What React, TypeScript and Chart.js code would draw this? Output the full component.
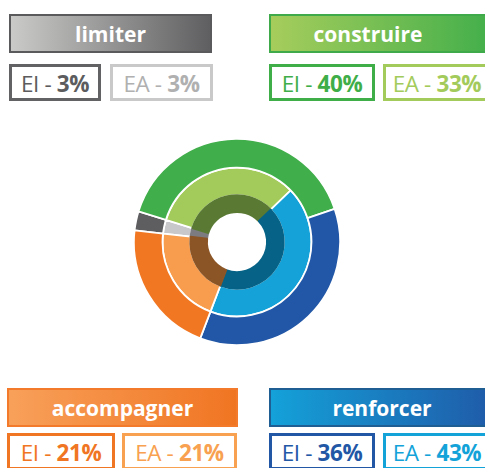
import React, { useEffect, useRef } from 'react';
import { Chart, registerables } from 'chart.js';

Chart.register(...registerables);

const categories = ['limiter', 'construire', 'renforcer', 'accompagner'];
const eiValues = [3, 40, 36, 21];
const eaValues = [3, 33, 43, 21];

const outerColors = ['#5e5e61', '#40ae4a', '#2157a6', '#f17722'];
const middleColors = ['#c8c8ca', '#a3cb5b', '#14a2d9', '#f89d4e'];
const innerColors = ['#7c7c80', '#5a7a34', '#066387', '#8c5526'];
const eiBorderColors = ['#626265', '#3fae49', '#2257a6', '#f07623'];
const eaBorderColors = ['#c9c9c9', '#a3cb5b', '#13a3d9', '#f8a150'];
const eiTextColors = ['#5c5c5e', '#3fae49', '#2257a6', '#f07623'];
const eaTextColors = ['#b0b0b0', '#a3cb5b', '#13a3d9', '#f8a150'];
const gradients = [
  ['#cacac8', '#5f5f61'],
  ['#a6cd5c', '#40ae4a'],
  ['#14a1d9', '#2056a5'],
  ['#f8a05a', '#f07522'],
];
const headerBorders = ['#5a5a5c', '#3faa49', '#1e5e93', '#f27a2a'];

// layout per category: [left, headerTop, headerWidth, textWidth, boxTop, eiWidth, eaLeft, eaWidth]
const layout: Record<string, number[]> = {
  limiter: [9, 14, 203, 203, 64, 92, 110, 103],
  construire: [269, 14, 230, 198, 64, 106, 383, 120],
  renforcer: [269, 388, 240, 226, 433, 106, 383, 120],
  accompagner: [7, 388, 231, 231, 433, 108, 122, 115],
};

const FONT = '"Open Sans", "Noto Sans", sans-serif';

function Legend({ idx }: { idx: number }) {
  const name = categories[idx];
  const [left, hTop, hW, tW, bTop, eiW, eaLeft, eaW] = layout[name];
  const boxH = 37;
  const boxStyle = (l: number, w: number, col: string): React.CSSProperties => ({
    position: 'absolute',
    left: l,
    top: bTop,
    width: w,
    height: boxH,
    boxSizing: 'border-box',
    border: `3px solid ${col}`,
    background: '#fff',
    display: 'flex',
    alignItems: 'center',
    fontFamily: FONT,
    fontSize: 22.5,
    whiteSpace: 'nowrap',
    letterSpacing: -0.4,
  });
  const inner = (w: number): React.CSSProperties => ({
    width: w - 6,
    flex: 'none',
    display: 'flex',
    justifyContent: 'center',
    paddingTop: 2,
  });
  return (
    <>
      <div
        style={{
          position: 'absolute',
          left,
          top: hTop,
          width: hW,
          height: 39,
          boxSizing: 'border-box',
          border: `2px solid ${headerBorders[idx]}`,
          background: `linear-gradient(to right, ${gradients[idx][0]}, ${gradients[idx][1]})`,
          color: '#fff',
          fontFamily: FONT,
          fontWeight: 700,
          fontSize: 21,
          display: 'flex',
          alignItems: 'center',
          whiteSpace: 'nowrap',
        }}
      >
        <div style={{ width: tW - 4, flex: 'none', textAlign: 'center' }}>{name}</div>
      </div>
      <div style={{ ...boxStyle(left, eiW, eiBorderColors[idx]), color: eiTextColors[idx] }}>
        <div style={inner(eiW)}>
          <span>EI -&nbsp;</span>
          <span style={{ fontWeight: 700 }}>{eiValues[idx]}%</span>
        </div>
      </div>
      <div style={{ ...boxStyle(eaLeft, eaW, eaBorderColors[idx]), color: eaTextColors[idx] }}>
        <div style={inner(eaLeft < 300 ? eaW : 108)}>
          <span>EA -&nbsp;</span>
          <span style={{ fontWeight: 700 }}>{eaValues[idx]}%</span>
        </div>
      </div>
    </>
  );
}

export default function App() {
  const ref = useRef<HTMLCanvasElement>(null);
  useEffect(() => {
    if (!ref.current) return;
    const chart = new Chart(ref.current, {
      type: 'doughnut',
      data: {
        labels: categories,
        datasets: [
          {
            data: eiValues,
            backgroundColor: outerColors,
            borderColor: '#ffffff',
            borderWidth: 1.8,
            weight: 29,
          },
          {
            data: eaValues,
            backgroundColor: middleColors,
            borderColor: '#ffffff',
            borderWidth: 1.8,
            weight: 28,
          },
          {
            data: eaValues,
            backgroundColor: innerColors,
            borderColor: innerColors,
            borderWidth: 1.8,
            weight: 17,
            order: -1,
          } as any,
        ],
      },
      options: {
        responsive: false,
        animation: false,
        events: [],
        rotation: -83.5,
        cutout: 30,
        plugins: {
          legend: { display: false },
          tooltip: { enabled: false },
        },
        layout: { padding: 0 },
      },
    });
    return () => chart.destroy();
  }, []);

  return (
    <div
      style={{
        position: 'fixed',
        left: 0,
        top: 0,
        width: 485,
        height: 468,
        overflow: 'hidden',
        background: '#fff',
      }}
    >
      <canvas
        ref={ref}
        width={208}
        height={208}
        style={{ position: 'absolute', left: 133, top: 138, width: 208, height: 208 }}
      />
      {categories.map((_, i) => (
        <Legend key={i} idx={i} />
      ))}
    </div>
  );
}
